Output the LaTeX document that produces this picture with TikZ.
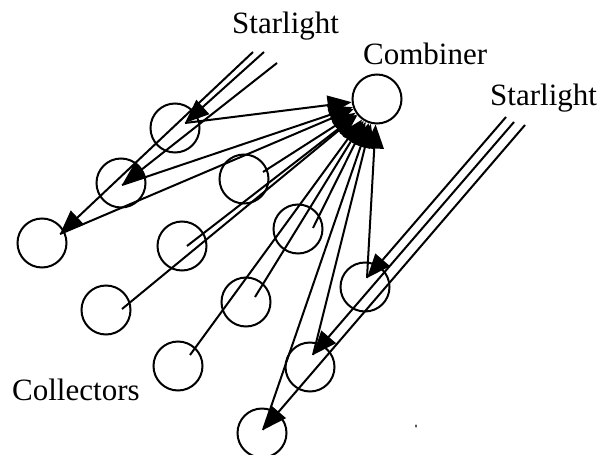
\documentclass[tikz,border=0pt]{standalone}
\usepackage{fontspec}
\setmainfont{Liberation Serif}
\usetikzlibrary{arrows.meta}
\begin{document}
\begin{tikzpicture}[x=1pt,y=-1pt,
  coll/.style={circle,draw,line width=2pt,minimum size=49pt,inner sep=0pt,fill=white},
  ray/.style={line width=2pt,-{Triangle[length=24pt,width=19pt]}},
  feed/.style={line width=2pt,-{Triangle[length=24pt,width=19pt]}},
  lbl/.style={font=\fontsize{31}{37}\selectfont,inner sep=0pt,anchor=base west}]
\useasboundingbox (0,0) rectangle (605,455);
% collectors
\node[coll] (c1) at (175,128) {};
\node[coll] (c2) at (121,183) {};
\node[coll] (c3) at (42,243) {};
\node[coll] (c4) at (244,179) {};
\node[coll] (c5) at (182,246) {};
\node[coll] (c6) at (106,310) {};
\node[coll] (c7) at (298,229) {};
\node[coll] (c8) at (246,302) {};
\node[coll] (c9) at (178,366) {};
\node[coll] (c10) at (365,287) {};
\node[coll] (c11) at (310,367) {};
\node[coll] (c12) at (262,433) {};
\node[coll] (comb) at (377,99) {};
% feed points inside collectors
\coordinate (p1) at (185,123);
\coordinate (p2) at (122,185);
\coordinate (p3) at (60,234);
\coordinate (p4) at (263,172);
\coordinate (p5) at (187,246);
\coordinate (p6) at (122,309);
\coordinate (p7) at (313,228);
\coordinate (p8) at (255,297);
\coordinate (p9) at (190,355);
\coordinate (p10) at (367,278);
\coordinate (p11) at (313,355);
\coordinate (p12) at (263,430);
% starlight origins
\coordinate (s3) at (253,52);
\coordinate (s1) at (264,52);
\coordinate (s2) at (277,63);
\coordinate (s10) at (506,117);
\coordinate (s11) at (514,122);
\coordinate (s12) at (525,125);
% lines from collectors to combiner
\foreach \i in {1,...,12} {\draw[feed] (p\i) -- (comb);}
% starlight rays
\draw[ray] (s3) -- (p3);
\draw[ray] (s1) -- (p1);
\draw[ray] (s2) -- (p2);
\draw[ray] (s10) -- (p10);
\draw[ray] (s11) -- (p11);
\draw[ray] (s12) -- (p12);
% labels
\node[lbl] (t1) at (232,33) {Starlight};
\node[lbl] (t2) at (363,64) {Combiner};
\node[lbl] (t3) at (490,105) {Starlight};
\node[lbl] (t4) at (12,400) {Collectors};
\fill (416,426) ellipse (0.8pt and 1.8pt);
\end{tikzpicture}
\end{document}
